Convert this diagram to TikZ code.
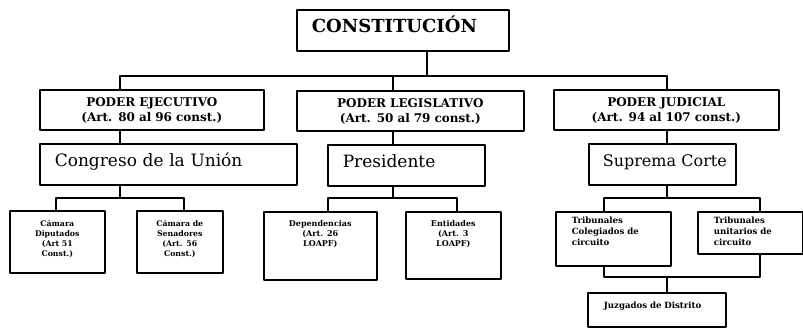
\documentclass[tikz,border=0pt]{standalone}
\usepackage{fontspec}
\setmainfont{DejaVu Serif}
\hfuzz=60pt
\begin{document}
\begin{tikzpicture}[x=1pt,y=-1pt,line width=1.6pt,line cap=round,line join=round,
	caja/.style={draw,anchor=north west,inner ysep=4pt},
	grande/.style={caja,align=left,inner xsep=15pt,text height=18.5pt,text depth=14.5pt},
	poder/.style={caja,align=center,inner xsep=4pt,text height=13pt,text depth=19pt,font=\fontsize{12}{15}\bfseries\selectfont},
	chica/.style={caja,align=center,inner xsep=4pt,text height=12pt,font=\fontsize{7.8}{10}\bfseries\selectfont},
	tribunal/.style={caja,align=left,inner xsep=16pt,text height=8pt,font=\fontsize{8.6}{11}\bfseries\selectfont}]
	\useasboundingbox (0,0) rectangle (803,330);
	\node[grande,text width=182pt,font=\fontsize{18}{20}\bfseries\selectfont] (const) at (296,9) {CONSTITUCIÓN};
	\node[poder,text width=216pt] (ejec) at (39,89) {PODER EJECUTIVO\\(Art. 80 al 96 const.)};
	\node[poder,text width=219pt] (legis) at (296,90) {PODER LEGISLATIVO\\(Art. 50 al 79 const.)};
	\node[poder,text width=217pt] (judic) at (553,89) {PODER JUDICIAL\\(Art. 94 al 107 const.)};
	\node[grande,text width=227pt,font=\fontsize{17}{20}\selectfont] (congreso) at (39,143) {Congreso de la Unión};
	\node[grande,text width=127pt,font=\fontsize{17}{20}\selectfont] (presid) at (327,144) {Presidente};
	\node[grande,inner xsep=14pt,text width=119pt,font=\fontsize{16}{20}\selectfont] (suprema) at (588,143) {\mbox{Suprema Corte}};
	\node[chica,text width=87pt,text depth=42pt] (diput) at (9,210) {Cámara\\Diputados\\(Art 51\\Const.)};
	\node[chica,text width=78pt,text depth=42pt] (senad) at (136,210) {Cámara de\\Senadores\\(Art. 56\\Const.)};
	\node[chica,text width=105pt,text height=11pt,text depth=49pt,font=\fontsize{8}{10}\bfseries\selectfont] (depend) at (263,211) {Dependencias\\(Art. 26\\LOAPF)};
	\node[chica,text width=87pt,text height=11pt,text depth=48pt,font=\fontsize{8}{10}\bfseries\selectfont] (entid) at (405,211) {Entidades\\(Art. 3\\LOAPF)};
	\node[tribunal,text width=83pt,text depth=38pt] (coleg) at (555,211) {Tribunales\\Colegiados de\\circuito};
	\node[tribunal,text width=73pt,text depth=26pt] (unitar) at (697,211) {Tribunales\\unitarios de\\circuito};
	\node[tribunal,text width=106pt,text height=12pt,text depth=14pt] (juzg) at (587,292) {Juzgados de Distrito};
	\coordinate (b1) at (120,76);
	\coordinate (b2) at (393,76);
	\coordinate (b3) at (667,76);
	\coordinate (c1) at (56,198);
	\coordinate (c2) at (184,198);
	\coordinate (d1) at (328,198);
	\coordinate (d2) at (457,198);
	\coordinate (e1) at (604,198);
	\coordinate (e2) at (760,198);
	\coordinate (f1) at (604,277);
	\coordinate (f2) at (760,277);
	\draw ([xshift=24pt]const.south) -- ([xshift=24pt]const.south |- b2);
	\draw (b1) -- (b3);
	\draw (b1) -- (b1 |- ejec.north);
	\draw (b2) -- (b2 |- legis.north);
	\draw (b3) -- (b3 |- judic.north);
	\draw (b1 |- ejec.south) -- (b1 |- congreso.north);
	\draw (b2 |- legis.south) -- (b2 |- presid.north);
	\draw (b3 |- judic.south) -- (b3 |- suprema.north);
	\draw (b1 |- congreso.south) -- (b1 |- c1);
	\draw (c1 |- diput.north) -- (c1) -- (c2) -- (c2 |- senad.north);
	\draw (b2 |- presid.south) -- (b2 |- d1);
	\draw (d1 |- depend.north) -- (d1) -- (d2) -- (d2 |- entid.north);
	\draw (b3 |- suprema.south) -- (b3 |- e1);
	\draw (e1 |- coleg.north) -- (e1) -- (e2) -- (e2 |- unitar.north);
	\draw (e1 |- coleg.south) -- (f1) -- (f2) -- (e2 |- unitar.south);
	\draw (b3 |- f1) -- (b3 |- juzg.north);
\end{tikzpicture}
\end{document}
